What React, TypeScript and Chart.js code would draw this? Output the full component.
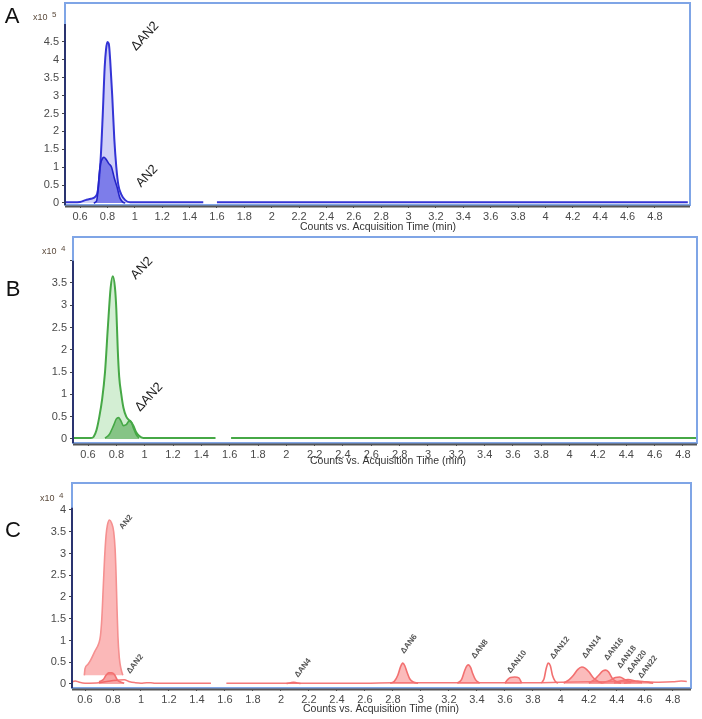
import React, { useEffect, useRef } from "react";
import { Chart, registerables } from "chart.js";
Chart.register(...registerables);

// ---------- shared axis ticks ----------
const xTickValues = [0.6, 0.8, 1, 1.2, 1.4, 1.6, 1.8, 2, 2.2, 2.4, 2.6, 2.8, 3, 3.2, 3.4, 3.6, 3.8, 4, 4.2, 4.4, 4.6, 4.8];
const yTicksA = [0, 0.5, 1, 1.5, 2, 2.5, 3, 3.5, 4, 4.5];
const yTicksB = [0, 0.5, 1, 1.5, 2, 2.5, 3, 3.5, 4];
const yTicksC = [0, 0.5, 1, 1.5, 2, 2.5, 3, 3.5, 4];
const xTitle = "Counts vs. Acquisition Time (min)";

// ---------- Panel A (x10^5) ----------
const A_dAN2_x = [0.49, 0.55, 0.6, 0.64, 0.68, 0.71, 0.73, 0.75, 0.765, 0.78, 0.79, 0.8, 0.81, 0.82, 0.835, 0.85, 0.865, 0.88, 0.9, 0.93, 0.965, 1.0, 1.2, 1.5, 1.55, 1.6, 2.0, 3.0, 4.0, 5.04];
const A_dAN2_y = [0.02, 0.02, 0.03, 0.08, 0.12, 0.17, 0.35, 1.2, 2.4, 3.8, 4.3, 4.5, 4.45, 4.0, 3.0, 1.8, 1.0, 0.5, 0.25, 0.08, 0.02, 0.02, 0.02, 0.02, null, 0.02, 0.02, 0.02, 0.02, 0.02];
const A_AN2_x = [0.7, 0.72, 0.73, 0.74, 0.75, 0.765, 0.775, 0.79, 0.81, 0.83, 0.85, 0.87, 0.89, 0.91, 0.93];
const A_AN2_y = [0, 0.05, 0.3, 0.8, 1.1, 1.25, 1.28, 1.22, 1.1, 1.0, 0.7, 0.45, 0.15, 0.03, 0];
const A_labelText = ["ΔAN2", "AN2"];
const A_labelX = [1.075, 1.089];
const A_labelY = [4.66, 0.75];

// ---------- Panel B (x10^4) ----------
const B_AN2_x = [0.5, 0.6, 0.62, 0.64, 0.66, 0.68, 0.7, 0.72, 0.74, 0.76, 0.775, 0.79, 0.8, 0.81, 0.82, 0.835, 0.85, 0.87, 0.89, 0.9, 0.92, 0.94, 0.96, 0.99, 1.1, 1.3, 1.5, 1.55, 1.61, 2, 3, 4, 4.9];
const B_AN2_y = [0.02, 0.02, 0.02, 0.05, 0.2, 0.5, 0.9, 1.5, 2.5, 3.4, 3.65, 3.4, 2.9, 2.0, 1.4, 1.0, 0.7, 0.5, 0.42, 0.4, 0.3, 0.15, 0.07, 0.02, 0.02, 0.02, 0.02, null, 0.02, 0.02, 0.02, 0.02, 0.02];
const B_dAN2_x = [0.72, 0.75, 0.78, 0.8, 0.815, 0.83, 0.85, 0.87, 0.89, 0.905, 0.92, 0.94, 0.96];
const B_dAN2_y = [0.02, 0.1, 0.3, 0.45, 0.48, 0.42, 0.3, 0.32, 0.4, 0.38, 0.25, 0.1, 0.02];
const B_labelText = ["AN2", "ΔAN2"];
const B_labelX = [0.98, 1.03];
const B_labelY = [3.83, 0.94];

// ---------- Panel C (x10^4) ----------
const C_AN2_x = [0.595, 0.6, 0.62, 0.64, 0.67, 0.7, 0.71, 0.72, 0.73, 0.74, 0.75, 0.76, 0.775, 0.79, 0.805, 0.815, 0.822, 0.828, 0.835, 0.845, 0.857, 0.87];
const C_AN2_y = [0.2, 0.35, 0.45, 0.55, 0.75, 0.95, 1.1, 1.5, 2.2, 2.9, 3.4, 3.65, 3.77, 3.7, 3.5, 3.1, 2.5, 1.8, 1.1, 0.6, 0.35, 0.2];
const C_dAN2_x = [0.7, 0.73, 0.75, 0.77, 0.79, 0.81, 0.83, 0.85, 0.88];
const C_dAN2_y = [0.05, 0.1, 0.2, 0.26, 0.26, 0.22, 0.1, 0.05, 0.02];
const C_base_x = [0.5, 0.53, 0.56, 0.6, 0.7, 0.8, 0.88, 0.92, 0.96, 1.0, 1.04, 1.07, 1.1, 1.3, 1.5, 1.55, 1.61, 1.8, 2.0, 2.3, 2.6, 2.8, 3.0, 3.3, 3.6, 3.8, 4.0, 4.2, 4.4, 4.6, 4.7, 4.8, 4.86, 4.9];
const C_base_y = [0.04, 0.07, 0.04, 0.02, 0.03, 0.08, 0.1, 0.05, 0.03, 0.02, 0.03, 0.03, 0.02, 0.02, 0.02, null, 0.02, 0.02, 0.02, 0.02, 0.02, 0.03, 0.03, 0.03, 0.03, 0.03, 0.04, 0.05, 0.06, 0.05, 0.04, 0.05, 0.07, 0.06];
const C_dAN4_x = [2.04, 2.07, 2.09, 2.11, 2.14];
const C_dAN4_y = [0.01, 0.03, 0.04, 0.03, 0.01];
const C_dAN6_x = [2.78, 2.81, 2.835, 2.855, 2.87, 2.885, 2.9, 2.92, 2.95, 2.98];
const C_dAN6_y = [0.02, 0.06, 0.2, 0.4, 0.48, 0.42, 0.28, 0.12, 0.04, 0.02];
const C_dAN8_x = [3.26, 3.29, 3.31, 3.325, 3.34, 3.355, 3.37, 3.39, 3.42];
const C_dAN8_y = [0.02, 0.1, 0.28, 0.4, 0.44, 0.38, 0.24, 0.1, 0.02];
const C_dAN10_x = [3.6, 3.62, 3.64, 3.67, 3.7, 3.72];
const C_dAN10_y = [0.02, 0.1, 0.15, 0.16, 0.14, 0.02];
const C_dAN12_x = [3.86, 3.88, 3.895, 3.91, 3.925, 3.94, 3.96, 3.98];
const C_dAN12_y = [0.02, 0.12, 0.35, 0.48, 0.42, 0.2, 0.06, 0.02];
const C_dAN14_x = [4.02, 4.06, 4.09, 4.12, 4.15, 4.17, 4.2, 4.23, 4.27, 4.3];
const C_dAN14_y = [0.02, 0.1, 0.2, 0.33, 0.39, 0.37, 0.28, 0.15, 0.05, 0.02];
const C_dAN16_x = [4.2, 4.24, 4.27, 4.3, 4.32, 4.34, 4.37, 4.4, 4.43];
const C_dAN16_y = [0.02, 0.1, 0.2, 0.3, 0.32, 0.28, 0.12, 0.05, 0.02];
const C_dAN18_x = [4.3, 4.35, 4.39, 4.42, 4.46, 4.5];
const C_dAN18_y = [0.03, 0.08, 0.15, 0.16, 0.1, 0.04];
const C_dAN20_x = [4.38, 4.44, 4.48, 4.53, 4.58];
const C_dAN20_y = [0.03, 0.08, 0.1, 0.07, 0.03];
const C_dAN22_x = [4.45, 4.5, 4.55, 4.6, 4.66];
const C_dAN22_y = [0.02, 0.05, 0.07, 0.05, 0.02];
const C_labelText = ["AN2", "ΔAN2", "ΔAN4", "ΔAN6", "ΔAN8", "ΔAN10", "ΔAN12", "ΔAN14", "ΔAN16", "ΔAN18", "ΔAN20", "ΔAN22"];
const C_labelX = [0.893, 0.957, 2.157, 2.914, 3.421, 3.686, 3.993, 4.221, 4.379, 4.471, 4.543, 4.621];
const C_labelY = [3.72, 0.46, 0.37, 0.92, 0.8, 0.51, 0.83, 0.85, 0.8, 0.62, 0.51, 0.39];

function zip(xs: number[], ys: (number | null)[]) {
  return xs.map((x, i) => ({ x, y: ys[i] }));
}

function series(xs: number[], ys: (number | null)[], line: string, fill: any, fillTarget: any, width = 1.6) {
  return {
    data: zip(xs, ys),
    borderColor: line,
    backgroundColor: fill,
    borderWidth: width,
    fill: fillTarget,
    pointRadius: 0,
    cubicInterpolationMode: "monotone",
    spanGaps: false,
  };
}

type Cfg = {
  top: number;
  height: number;
  padTop: number;
  padRight: number;
  yWidth: number;
  xHeight: number;
  xMin: number;
  xMax: number;
  yMin: number;
  yMax: number;
  yTicks: number[];
  hideY?: number[];
  axisTop: number;
  datasets: any[];
  letter: string;
  letterPos: [number, number];
  expo: string;
  expoPos: [number, number];
  titlePos: [number, number];
  labelText: string[];
  labelX: number[];
  labelY: number[];
  labelFont: string;
  labelAngle: number;
  labelColor: string;
};

const fmt = (v: number) => String(+Number(v).toFixed(1));

function Panel({ cfg }: { cfg: Cfg }) {
  const ref = useRef<HTMLCanvasElement | null>(null);
  useEffect(() => {
    if (!ref.current) return;
    const off = cfg.top; // page -> canvas offset for layout texts
    const overlay = {
      id: "overlay",
      afterDatasetsDraw(chart: any) {
        const ctx = chart.ctx;
        const a = chart.chartArea;
        const ys = chart.scales.y;
        ctx.save();
        ctx.strokeStyle = "#7fa5e6";
        ctx.lineWidth = 2;
        ctx.strokeRect(a.left, a.top, a.right - a.left, a.bottom - a.top);
        ctx.strokeStyle = "#2a3470";
        ctx.lineWidth = 2;
        ctx.beginPath();
        ctx.moveTo(a.left, ys.getPixelForValue(cfg.axisTop));
        ctx.lineTo(a.left, a.bottom);
        ctx.stroke();
        ctx.strokeStyle = "#555";
        ctx.lineWidth = 2;
        ctx.beginPath();
        ctx.moveTo(a.left, a.bottom + 1.5);
        ctx.lineTo(a.right, a.bottom + 1.5);
        ctx.stroke();
        ctx.restore();
      },
      afterDraw(chart: any) {
        const ctx = chart.ctx;
        const xs = chart.scales.x;
        const ys = chart.scales.y;
        ctx.save();
        // panel letter
        ctx.fillStyle = "#111";
        ctx.font = "22px 'Liberation Sans', Arial, sans-serif";
        ctx.textAlign = "center";
        ctx.textBaseline = "middle";
        ctx.fillText(cfg.letter, cfg.letterPos[0], cfg.letterPos[1] - off);
        // exponent
        ctx.fillStyle = "#5b4a3c";
        ctx.font = "9px 'Liberation Sans', Arial, sans-serif";
        ctx.textAlign = "left";
        ctx.fillText("x10", cfg.expoPos[0], cfg.expoPos[1] - off);
        ctx.font = "8px 'Liberation Sans', Arial, sans-serif";
        ctx.fillText(cfg.expo, cfg.expoPos[0] + 19, cfg.expoPos[1] - off - 3);
        // x title
        ctx.fillStyle = "#333";
        ctx.font = "10.5px 'Liberation Sans', Arial, sans-serif";
        ctx.textAlign = "center";
        ctx.fillText(xTitle, cfg.titlePos[0], cfg.titlePos[1] - off);
        // peak labels
        ctx.fillStyle = cfg.labelColor;
        ctx.font = cfg.labelFont;
        for (let i = 0; i < cfg.labelText.length; i++) {
          const px = xs.getPixelForValue(cfg.labelX[i]);
          const py = ys.getPixelForValue(cfg.labelY[i]);
          ctx.save();
          ctx.translate(px, py);
          ctx.rotate((-cfg.labelAngle * Math.PI) / 180);
          ctx.textAlign = "center";
          ctx.textBaseline = "middle";
          ctx.fillText(cfg.labelText[i], 0, 0);
          ctx.restore();
        }
        ctx.restore();
      },
    };
    const tickFont = { family: "'Liberation Sans', Arial, sans-serif", size: 11 };
    const chart = new Chart(ref.current, {
      type: "line",
      data: { datasets: cfg.datasets },
      options: {
        animation: false,
        responsive: false,
        devicePixelRatio: 1,
        layout: { padding: { top: cfg.padTop, right: cfg.padRight, left: 0, bottom: 0 } },
        plugins: { legend: { display: false }, tooltip: { enabled: false } },
        scales: {
          x: {
            type: "linear",
            min: cfg.xMin,
            max: cfg.xMax,
            afterBuildTicks: (s: any) => {
              s.ticks = xTickValues.map((v) => ({ value: v }));
            },
            afterFit: (s: any) => {
              s.height = cfg.xHeight;
              s.paddingLeft = 0;
              s.paddingRight = 0;
            },
            ticks: {
              autoSkip: false,
              maxRotation: 0,
              padding: 2,
              color: "#4a4a4a",
              font: tickFont,
              callback: (v: any) => fmt(v),
            },
            grid: { drawOnChartArea: false, drawTicks: true, tickLength: 3, color: "#444", tickColor: "#444" },
            border: { display: false },
          },
          y: {
            type: "linear",
            min: cfg.yMin,
            max: cfg.yMax,
            afterBuildTicks: (s: any) => {
              s.ticks = cfg.yTicks.map((v) => ({ value: v }));
            },
            afterFit: (s: any) => {
              s.width = cfg.yWidth;
              s.paddingTop = 0;
              s.paddingBottom = 0;
            },
            ticks: {
              padding: 3,
              color: "#4a4a4a",
              font: tickFont,
              callback: (v: any) => ((cfg.hideY || []).includes(Number(v)) ? "" : fmt(v)),
            },
            grid: { drawOnChartArea: false, drawTicks: true, tickLength: 3, color: "#444", tickColor: "#444" },
            border: { display: false },
          },
        },
      } as any,
      plugins: [overlay],
    } as any);
    return () => chart.destroy();
  }, [cfg]);
  return (
    <canvas
      ref={ref}
      width={702}
      height={cfg.height}
      style={{ position: "absolute", left: 0, top: cfg.top, width: 702, height: cfg.height }}
    />
  );
}

const blueLine = "#3434d6";
const greenLine = "#46a846";
const redLine = "#f27070";

const cfgA: Cfg = {
  top: 0,
  height: 236,
  padTop: 3,
  padRight: 12,
  yWidth: 65,
  xHeight: 31,
  xMin: 0.49,
  xMax: 5.056,
  yMin: -0.056,
  yMax: 5.59,
  yTicks: yTicksA,
  axisTop: 5.0,
  datasets: [
    series(A_AN2_x, A_AN2_y, "#2424c8", "rgba(70,70,225,0.6)", "origin"),
    series(A_dAN2_x, A_dAN2_y, blueLine, "rgba(150,150,240,0.45)", "origin", 2),
  ],
  letter: "A",
  letterPos: [12, 17],
  expo: "5",
  expoPos: [33, 18],
  titlePos: [378, 227],
  labelText: A_labelText,
  labelX: A_labelX,
  labelY: A_labelY,
  labelFont: "13px 'Liberation Sans', Arial, sans-serif",
  labelAngle: 47,
  labelColor: "#222",
};

const cfgB: Cfg = {
  top: 236,
  height: 236,
  padTop: 1,
  padRight: 5,
  yWidth: 73,
  xHeight: 29,
  xMin: 0.494,
  xMax: 4.899,
  yMin: -0.09,
  yMax: 4.53,
  yTicks: yTicksB,
  hideY: [4],
  axisTop: 4.0,
  datasets: [
    series(B_dAN2_x, B_dAN2_y, greenLine, "rgba(70,160,70,0.55)", "origin"),
    series(B_AN2_x, B_AN2_y, greenLine, "rgba(140,210,140,0.38)", "origin", 2),
  ],
  letter: "B",
  letterPos: [13, 290],
  expo: "4",
  expoPos: [42, 252],
  titlePos: [388, 461],
  labelText: B_labelText,
  labelX: B_labelX,
  labelY: B_labelY,
  labelFont: "13px 'Liberation Sans', Arial, sans-serif",
  labelAngle: 47,
  labelColor: "#222",
};

const redFill = "rgba(247,120,120,0.5)";
const cfgC: Cfg = {
  top: 472,
  height: 247,
  padTop: 11,
  padRight: 11,
  yWidth: 72,
  xHeight: 31,
  xMin: 0.507,
  xMax: 4.93,
  yMin: -0.092,
  yMax: 4.62,
  yTicks: yTicksC,
  axisTop: 4.05,
  datasets: [
    series(C_dAN2_x, C_dAN2_y, redLine, "rgba(240,90,90,0.55)", "origin"),
    series(C_AN2_x, C_AN2_y, "#f59090", "rgba(249,160,160,0.75)", { value: 0.2 }),
    series(C_dAN4_x, C_dAN4_y, redLine, redFill, "origin"),
    series(C_dAN6_x, C_dAN6_y, redLine, redFill, "origin"),
    series(C_dAN8_x, C_dAN8_y, redLine, redFill, "origin"),
    series(C_dAN10_x, C_dAN10_y, redLine, redFill, "origin"),
    series(C_dAN12_x, C_dAN12_y, redLine, "rgba(0,0,0,0)", false),
    series(C_dAN14_x, C_dAN14_y, redLine, redFill, "origin"),
    series(C_dAN16_x, C_dAN16_y, redLine, redFill, "origin"),
    series(C_dAN18_x, C_dAN18_y, redLine, redFill, "origin"),
    series(C_dAN20_x, C_dAN20_y, redLine, redFill, "origin"),
    series(C_dAN22_x, C_dAN22_y, redLine, redFill, "origin"),
    series(C_base_x, C_base_y, "#f47a7a", "rgba(0,0,0,0)", false, 1.5),
  ],
  letter: "C",
  letterPos: [13, 531],
  expo: "4",
  expoPos: [40, 499],
  titlePos: [381, 709],
  labelText: C_labelText,
  labelX: C_labelX,
  labelY: C_labelY,
  labelFont: "bold 8px 'Liberation Sans', Arial, sans-serif",
  labelAngle: 52,
  labelColor: "#555",
};

export default function App() {
  return (
    <div style={{ position: "absolute", left: 0, top: 0, width: 702, height: 719, background: "#fff", overflow: "hidden" }}>
      <Panel cfg={cfgA} />
      <Panel cfg={cfgB} />
      <Panel cfg={cfgC} />
    </div>
  );
}
